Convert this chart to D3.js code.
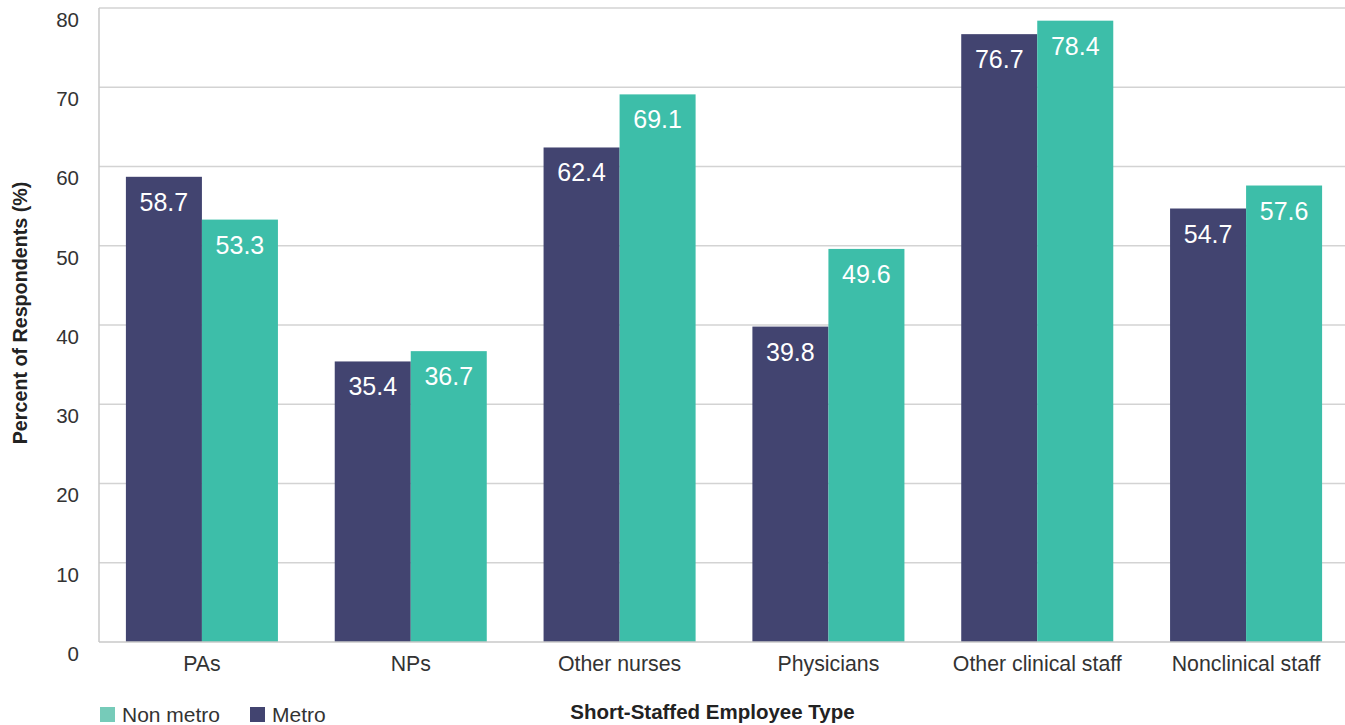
<!DOCTYPE html>
<html><head><meta charset="utf-8">
<script src="https://cdn.jsdelivr.net/npm/d3@7"></script>
<style>body{margin:0;background:#fff;} svg{display:block;font-family:"Liberation Sans",Arial,sans-serif;}</style>
</head><body>
<svg id="chart" width="1345" height="725"></svg>
<script>
const categories = ["PAs","NPs","Other nurses","Physicians","Other clinical staff","Nonclinical staff"];
const metro = [58.7,35.4,62.4,39.8,76.7,54.7];
const nonMetro = [53.3,36.7,69.1,49.6,78.4,57.6];
const yTicks = [0,10,20,30,40,50,60,70,80];
const seriesNames = ["Metro","Non metro"];
const colors = {"Metro":"#424470","Non metro":"#3dbea9"};
const legendColors = {"Metro":"#424470","Non metro":"#76cbb9"};

(function(){
const svg = d3.select("#chart");
const pLeft = 99, pRight = 1345, pTop = 8, pBottom = 642;

const x = d3.scaleBand().domain(categories).range([97.5,1350.5]).paddingInner(0.272).paddingOuter(0.136);
const xs = d3.scaleBand().domain(seriesNames).range([0,x.bandwidth()]);
const y = d3.scaleLinear().domain([0,80]).range([pBottom,pTop]);

// gridlines
svg.append("g").selectAll("line").data(yTicks.filter(d=>d>0)).join("line")
  .attr("x1",pLeft).attr("x2",pRight).attr("y1",d=>y(d)).attr("y2",d=>y(d))
  .attr("stroke","#d3d3d3").attr("stroke-width",1.5);

// y axis labels
const yAxis = d3.axisLeft(y).tickValues(yTicks).tickSize(0).tickPadding(20).tickFormat(d3.format("d"));
const gy = svg.append("g").attr("transform",`translate(${pLeft},0)`).call(yAxis);
gy.select(".domain").remove();
gy.selectAll("text").attr("font-size",20.5).attr("fill","#333").attr("dy","0.9em")
  .style("font-family","'Liberation Sans',Arial,sans-serif");

// bars
const data = categories.map((c,i)=>({cat:c, vals:[{s:"Metro",v:metro[i]},{s:"Non metro",v:nonMetro[i]}]}));
const groups = svg.append("g").selectAll("g").data(data).join("g")
  .attr("transform",d=>`translate(${x(d.cat)},0)`);
groups.selectAll("rect").data(d=>d.vals).join("rect")
  .attr("x",d=>xs(d.s)).attr("width",xs.bandwidth())
  .attr("y",d=>y(d.v)).attr("height",d=>y(0)-y(d.v))
  .attr("fill",d=>colors[d.s]);
groups.selectAll("text").data(d=>d.vals).join("text")
  .attr("x",d=>xs(d.s)+xs.bandwidth()/2).attr("y",d=>y(d.v)+34)
  .attr("text-anchor","middle").attr("fill","#fff").attr("font-size",25)
  .text(d=>d.v.toFixed(1));

// axis lines
svg.append("line").attr("x1",pLeft).attr("x2",pLeft).attr("y1",pTop).attr("y2",pBottom).attr("stroke","#c8c8c8").attr("stroke-width",1.5);
svg.append("line").attr("x1",pLeft).attr("x2",pRight).attr("y1",pBottom).attr("y2",pBottom).attr("stroke","#c8c8c8").attr("stroke-width",1.5);

// x axis labels
const xAxis = d3.axisBottom(x).tickSize(0).tickPadding(14);
const gx = svg.append("g").attr("transform",`translate(0,${pBottom})`).call(xAxis);
gx.select(".domain").remove();
gx.selectAll("text").attr("font-size",21.3).attr("fill","#333")
  .style("font-family","'Liberation Sans',Arial,sans-serif");

// axis titles
svg.append("text").attr("x",712.5).attr("y",719).attr("text-anchor","middle")
  .attr("font-size",20.5).attr("font-weight","bold").attr("fill","#222")
  .text("Short-Staffed Employee Type");
svg.append("text").attr("transform","translate(27,313) rotate(-90)").attr("text-anchor","middle")
  .attr("font-size",19.7).attr("font-weight","bold").attr("fill","#222")
  .text("Percent of Respondents (%)");

// legend
const legendItems = [{s:"Non metro",x:100},{s:"Metro",x:250}];
const lg = svg.append("g").selectAll("g").data(legendItems).join("g").attr("transform",d=>`translate(${d.x},707)`);
lg.append("rect").attr("width",15).attr("height",15).attr("fill",d=>legendColors[d.s]);
lg.append("text").attr("x",22).attr("y",15).attr("font-size",21).attr("fill","#333").text(d=>d.s);
})();
</script>
</body></html>
